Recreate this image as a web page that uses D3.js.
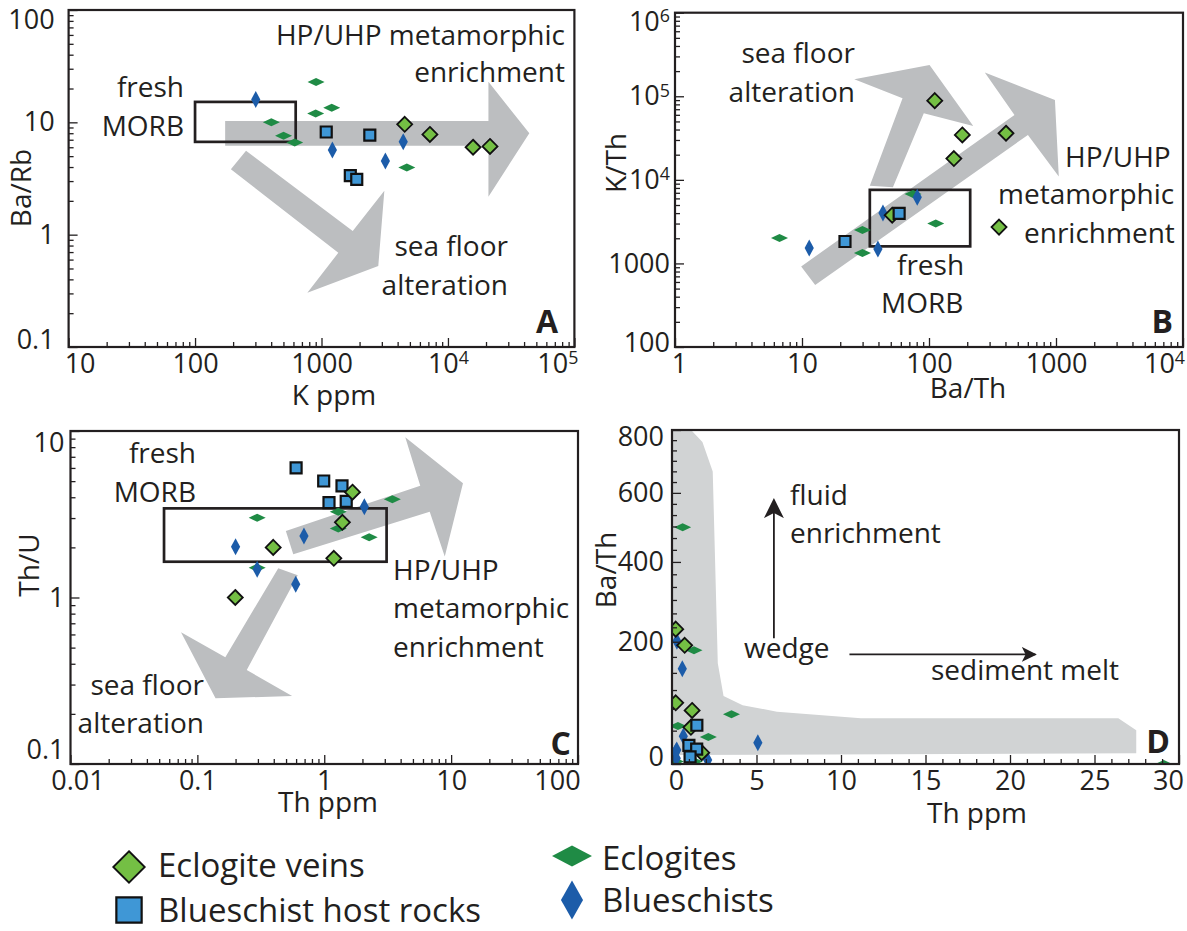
<!DOCTYPE html>
<html>
<head>
<meta charset="utf-8">
<script src="https://cdn.jsdelivr.net/npm/d3@7"></script>
<style>
  body { margin: 0; background: #fff; }
  svg text { font-family: "Open Sans", sans-serif; fill: #231f20; }
</style>
</head>
<body>
<script>
// ---------------- Panel A: Ba/Rb vs K ppm ----------------
const aEclogiteVeins = [[4550, 9.6], [7200, 7.8], [15800, 6.0], [21500, 6.1]];
const aBlueschistHost = [[1090, 8.2], [2410, 7.7], [1690, 3.35], [1900, 3.1]];
const aEclogites = [[906, 22.9], [900, 12.0], [1205, 13.5], [401, 10.0], [501, 7.6], [614, 6.6], [4730, 3.96]];
const aBlueschists = [[302, 16.0], [1219, 5.66], [3200, 4.52], [4430, 6.7]];
const aMorbBox = [[100, 6.7], [625, 15.2]];
const aMetArrow = [[173, 10.3], [20900, 10.3], [20900, 23.0], [44000, 7.98], [20900, 2.18], [20900, 6.19], [173, 6.19]];
const aSeaArrow = [[253, 5.58], [1766, 1.08], [3141, 2.46], [2812, 0.526], [773, 0.304], [1358, 0.69], [192, 3.82]];
const aXTicks = [10, 100, 1000, 1e4, 1e5];
const aYTicks = [0.1, 1, 10, 100];

// ---------------- Panel B: K/Th vs Ba/Th ----------------
const bEclogiteVeins = [[111, 88700], [183, 34500], [157, 18000], [404, 36100], [356, 2720], [51.3, 3780]];
const bBlueschistHost = [[58.2, 3960], [21.8, 1830]];
const bEclogites = [[6.65, 2010], [29.9, 2520], [29.9, 1330], [74.8, 6750], [113, 3000]];
const bBlueschists = [[11.4, 1525], [39.6, 1483], [43.4, 4000], [80.8, 6210]];
const bMorbBox = [[34.2, 1600], [211, 7590]];
const bMetArrow = [[9.85, 920], [471, 59800], [275, 192000], [981, 90300], [1052, 10960], [601, 34500], [12.7, 551]];
const bSeaArrow = [[34.2, 8480], [61.9, 94600], [25.8, 159700], [101, 237000], [223, 44200], [91, 62700], [52, 8170]];
const bXTicks = [1, 10, 100, 1000, 1e4];
const bYTicks = [100, 1000, 1e4, 1e5, 1e6];

// ---------------- Panel C: Th/U vs Th ppm ----------------
const cEclogiteVeins = [[1.67, 4.29], [1.39, 2.83], [0.396, 2.0], [1.19, 1.72], [0.199, 1.0]];
const cBlueschistHost = [[0.60, 6.0], [0.99, 5.01], [1.38, 4.68], [1.09, 3.71], [1.49, 3.78]];
const cEclogites = [[0.296, 3.01], [1.29, 3.27], [1.29, 2.60], [2.26, 2.30], [3.44, 3.89], [0.296, 1.51]];
const cBlueschists = [[2.07, 3.51], [0.692, 2.34], [0.200, 2.02], [0.296, 1.48], [0.596, 1.20]];
const cMorbBox = [[0.0546, 1.64], [3.10, 3.43]];
const cMetArrow = [[0.498, 2.51], [5.71, 4.69], [4.35, 9.17], [12.4, 4.85], [8.91, 1.76], [6.78, 3.27], [0.570, 1.82]];
const cSeaArrow = [[0.434, 1.50], [0.166, 0.438], [0.0743, 0.618], [0.139, 0.248], [0.558, 0.256], [0.245, 0.367], [0.618, 1.36]];
const cXTicks = [0.01, 0.1, 1, 10, 100];
const cYTicks = [0.1, 1, 10];

// ---------------- Panel D: Ba/Th vs Th ppm ----------------
const dEclogiteVeins = [[0.22, 229], [0.75, 192], [0.22, 77], [1.19, 64], [1.12, 38], [1.76, 7.5]];
const dBlueschistHost = [[1.47, 41], [1.0, 15], [1.46, 11], [1.07, 4]];
const dEclogites = [[0.63, 498], [1.3, 181], [3.52, 58], [0.35, 40], [2.15, 25], [1.32, 1], [0.2, 1], [29.1, 0]];
const dBlueschists = [[0.29, 201], [0.61, 142], [5.08, 18], [0.67, 26], [0.28, 10], [0.22, 8.4], [2.11, 1.8], [0.25, 3]];
const dWedgeField = [[0, 800], [1.13, 800], [1.80, 761], [2.41, 666], [2.71, 153], [3.05, 89], [4.18, 73], [6.21, 62],
  [11.18, 51.5], [26.41, 51.5], [27.47, 34], [27.47, 7], [0, 5.5]];
const dFluidArrow = [[6.03, 208], [6.03, 578]];
const dMeltArrow = [[10.5, 172], [21.5, 172]];
const dXTicks = [0, 5, 10, 15, 20, 25, 30];
const dYTicks = [0, 200, 400, 600, 800];

// ---------------- marker styles ----------------
const markerStyles = {
  veins:       { d: "M0,-7.5L7.5,0L0,7.5L-7.5,0Z", fill: "#74bf44", stroke: "#111", sw: 1.8 },
  host:        { d: "M-5.5,-5.5H5.5V5.5H-5.5Z", fill: "#3f97d6", stroke: "#111", sw: 2.2 },
  eclogites:   { d: "M-8.5,0L0,-4L8.5,0L0,4Z", fill: "#1f8b45", stroke: "none", sw: 0 },
  blueschists: { d: "M0,-8.5L4.6,0L0,8.5L-4.6,0Z", fill: "#1c5ca9", stroke: "none", sw: 0 }
};

const W = 1187, H = 931;
const svg = d3.select("body").append("svg").attr("width", W).attr("height", H);
const defs = svg.append("defs");
defs.append("marker").attr("id", "ahead").attr("viewBox", "0 0 10 10").attr("refX", 9).attr("refY", 5)
  .attr("markerUnits", "userSpaceOnUse").attr("markerWidth", 20).attr("markerHeight", 20).attr("orient", "auto")
  .append("path").attr("d", "M0,0L10,5L0,10L2.5,5Z").attr("fill", "#231f20");
defs.append("marker").attr("id", "aheadSmall").attr("viewBox", "0 0 10 10").attr("refX", 9).attr("refY", 5)
  .attr("markerUnits", "userSpaceOnUse").attr("markerWidth", 15).attr("markerHeight", 15).attr("orient", "auto")
  .append("path").attr("d", "M0,0L10,5L0,10L2.5,5Z").attr("fill", "#231f20");

function logMinors(ticks) {
  const out = [];
  for (let i = 0; i < ticks.length - 1; i++) {
    for (let k = 2; k <= 9; k++) out.push(+(k * ticks[i]).toPrecision(6));
  }
  return out;
}

// powers of ten from 10^4 upwards are written with a superscript exponent
function logLabel(sel) {
  sel.each(function (d) {
    const t = d3.select(this);
    if (d >= 1e4) {
      const e = Math.round(Math.log10(d));
      t.text("10");
      t.append("tspan").attr("dy", "-0.5em").attr("font-size", "0.66em").text(e);
    }
  });
}

function buildPanel(p) {
  const { x, y, frame } = p;
  const g = svg.append("g");
  const clipId = "clip-" + p.id;
  defs.append("clipPath").attr("id", clipId).append("rect")
    .attr("x", frame.l).attr("y", frame.t).attr("width", frame.r - frame.l).attr("height", frame.b - frame.t);
  const body = g.append("g").attr("clip-path", `url(#${clipId})`);
  const poly = d3.line().x(d => x(d[0])).y(d => y(d[1])).curve(d3.curveLinearClosed);

  (p.fields || []).forEach(f => {
    body.append("path").attr("d", poly(f.pts)).attr("fill", f.fill);
  });
  if (p.box) {
    body.append("rect")
      .attr("x", x(p.box[0][0])).attr("y", y(p.box[1][1]))
      .attr("width", x(p.box[1][0]) - x(p.box[0][0]))
      .attr("height", y(p.box[0][1]) - y(p.box[1][1]))
      .attr("fill", "none").attr("stroke", "#231f20").attr("stroke-width", 2.7);
  }
  (p.arrows || []).forEach(a => {
    body.append("line")
      .attr("x1", x(a.pts[0][0])).attr("y1", y(a.pts[0][1]))
      .attr("x2", x(a.pts[1][0])).attr("y2", y(a.pts[1][1]))
      .attr("stroke", "#231f20").attr("stroke-width", 1.8).attr("marker-end", `url(#${a.marker})`);
  });
  p.series.forEach(s => {
    const st = markerStyles[s.kind];
    body.append("g").selectAll("path").data(s.data).join("path")
      .attr("transform", d => `translate(${x(d[0])},${y(d[1])})`)
      .attr("d", st.d).attr("fill", st.fill).attr("stroke", st.stroke).attr("stroke-width", st.sw)
      .attr("stroke-linejoin", "miter");
  });

  // annotations
  p.notes.forEach(n => {
    g.append("text").attr("x", n.x).attr("y", n.y).attr("text-anchor", n.anchor || "start")
      .attr("font-size", 28).text(n.t);
  });
  g.append("text").attr("x", p.letter.x).attr("y", p.letter.y).attr("text-anchor", "end")
    .attr("font-size", 32).attr("font-weight", 700).text(p.id.toUpperCase());

  // axes: inward ticks, minor and major drawn as separate axis calls
  const xa = g.append("g").attr("transform", `translate(0,${frame.b})`);
  xa.append("g").call(d3.axisBottom(x).tickValues(p.xMinor).tickSize(-5).tickFormat(""));
  const xMaj = xa.append("g").call(d3.axisBottom(x).tickValues(p.xTicks).tickSize(-9).tickPadding(p.xPad).tickFormat(p.xFmt));
  const ya = g.append("g").attr("transform", `translate(${frame.l},0)`);
  ya.append("g").call(d3.axisLeft(y).tickValues(p.yMinor).tickSize(-5).tickFormat(""));
  const yMaj = ya.append("g").call(d3.axisLeft(y).tickValues(p.yTicks).tickSize(-9).tickPadding(p.yPad).tickFormat(p.yFmt));
  g.selectAll(".domain").remove();
  g.selectAll(".tick line").attr("stroke", "#231f20").attr("stroke-width", 1.3);
  const xt = xMaj.selectAll(".tick text").attr("font-size", 27).call(logLabel);
  const yt = yMaj.selectAll(".tick text").attr("font-size", 27).call(logLabel);
  xt.filter((d, i) => i === 0).attr("dx", p.nudge[0]);
  xt.filter((d, i, n) => i === n.length - 1).attr("dx", p.nudge[1]);
  yt.filter((d, i) => i === 0).attr("transform", `translate(0,${p.nudge[2]})`);
  yt.filter((d, i, n) => i === n.length - 1).attr("transform", `translate(0,${p.nudge[3]})`);
  g.selectAll(".tick text").attr("font-family", null).style("fill", "#231f20");

  g.append("rect").attr("x", frame.l).attr("y", frame.t)
    .attr("width", frame.r - frame.l).attr("height", frame.b - frame.t)
    .attr("fill", "none").attr("stroke", "#231f20").attr("stroke-width", 2.2);

  g.append("text").attr("x", p.xTitle.x).attr("y", p.xTitle.y).attr("text-anchor", "middle")
    .attr("font-size", 28).text(p.xTitle.t);
  g.append("text").attr("transform", `translate(${p.yTitle.x},${p.yTitle.y}) rotate(-90)`)
    .attr("text-anchor", "middle").attr("font-size", 28).text(p.yTitle.t);
}

const GRAY = "#bcbec0";
const logFmt = d => String(d);

// ---------- A ----------
const frA = { l: 68.6, t: 10, r: 574.4, b: 347 };
buildPanel({
  id: "a", frame: frA,
  x: d3.scaleLog().domain([10, 1e5]).range([frA.l, frA.r]),
  y: d3.scaleLog().domain([0.1, 100]).range([frA.b, frA.t]),
  xTicks: aXTicks, xMinor: logMinors(aXTicks), yTicks: aYTicks, yMinor: logMinors(aYTicks),
  xFmt: logFmt, yFmt: logFmt, xPad: 7, yPad: 14, nudge: [11, -17, -7, 10],
  fields: [{ pts: aMetArrow, fill: GRAY }, { pts: aSeaArrow, fill: GRAY }],
  box: aMorbBox,
  series: [{ kind: "eclogites", data: aEclogites }, { kind: "blueschists", data: aBlueschists },
           { kind: "host", data: aBlueschistHost }, { kind: "veins", data: aEclogiteVeins }],
  notes: [
    { t: "HP/UHP metamorphic", x: 565, y: 45, anchor: "end" },
    { t: "enrichment", x: 565, y: 82, anchor: "end" },
    { t: "fresh", x: 184, y: 97, anchor: "end" },
    { t: "MORB", x: 184, y: 136, anchor: "end" },
    { t: "sea floor", x: 508, y: 256, anchor: "end" },
    { t: "alteration", x: 508, y: 295, anchor: "end" }
  ],
  letter: { x: 558, y: 333 },
  xTitle: { t: "K ppm", x: 334, y: 405 },
  yTitle: { t: "Ba/Rb", x: 31, y: 188 }
});

// ---------- B ----------
const frB = { l: 675, t: 12.7, r: 1183, b: 347 };
buildPanel({
  id: "b", frame: frB,
  x: d3.scaleLog().domain([1, 1e4]).range([frB.l, frB.r]),
  y: d3.scaleLog().domain([100, 1e6]).range([frB.b, frB.t]),
  xTicks: bXTicks, xMinor: logMinors(bXTicks), yTicks: bYTicks, yMinor: logMinors(bYTicks),
  xFmt: logFmt, yFmt: logFmt, xPad: 7, yPad: 5, nudge: [4, -19, -4, 9],
  fields: [{ pts: bSeaArrow, fill: GRAY }, { pts: bMetArrow, fill: GRAY }],
  box: bMorbBox,
  series: [{ kind: "eclogites", data: bEclogites }, { kind: "blueschists", data: bBlueschists },
           { kind: "veins", data: bEclogiteVeins }, { kind: "host", data: bBlueschistHost }],
  notes: [
    { t: "sea floor", x: 855, y: 63, anchor: "end" },
    { t: "alteration", x: 855, y: 102, anchor: "end" },
    { t: "HP/UHP", x: 1065, y: 167 },
    { t: "metamorphic", x: 998, y: 204 },
    { t: "enrichment", x: 1024, y: 243 },
    { t: "fresh", x: 897, y: 275 },
    { t: "MORB", x: 881, y: 313 }
  ],
  letter: { x: 1173, y: 333 },
  xTitle: { t: "Ba/Th", x: 968, y: 398 },
  yTitle: { t: "K/Th", x: 626, y: 163 }
});

// ---------- C ----------
const frC = { l: 70.5, t: 431, r: 578, b: 764 };
buildPanel({
  id: "c", frame: frC,
  x: d3.scaleLog().domain([0.01, 100]).range([frC.l, frC.r]),
  y: d3.scaleLog().domain([0.1, 10]).range([frC.b, frC.t]),
  xTicks: cXTicks, xMinor: logMinors(cXTicks), yTicks: cYTicks, yMinor: logMinors(cYTicks),
  xFmt: logFmt, yFmt: logFmt, xPad: 7, yPad: 6, nudge: [7, -21, -14, 12],
  fields: [{ pts: cMetArrow, fill: GRAY }, { pts: cSeaArrow, fill: GRAY }],
  box: cMorbBox,
  series: [{ kind: "eclogites", data: cEclogites }, { kind: "blueschists", data: cBlueschists },
           { kind: "host", data: cBlueschistHost }, { kind: "veins", data: cEclogiteVeins }],
  notes: [
    { t: "fresh", x: 196, y: 463, anchor: "end" },
    { t: "MORB", x: 196, y: 502, anchor: "end" },
    { t: "HP/UHP", x: 393, y: 580 },
    { t: "metamorphic", x: 393, y: 618 },
    { t: "enrichment", x: 393, y: 657 },
    { t: "sea floor", x: 204, y: 695, anchor: "end" },
    { t: "alteration", x: 204, y: 733, anchor: "end" }
  ],
  letter: { x: 571, y: 755 },
  xTitle: { t: "Th ppm", x: 328, y: 812 },
  yTitle: { t: "Th/U", x: 39, y: 565 }
});

// ---------- D ----------
const frD = { l: 672, t: 430, r: 1179, b: 764 };
buildPanel({
  id: "d", frame: frD,
  x: d3.scaleLinear().domain([0, 30]).range([frD.l, frD.r]),
  y: d3.scalePow().exponent(0.725).domain([0, 800]).range([frD.b, frD.t]),
  xTicks: dXTicks, xMinor: d3.range(0, 31).filter(v => v % 5 !== 0),
  yTicks: dYTicks, yMinor: d3.range(0, 800, 200 / 6).filter((v, i) => i % 6 !== 0),
  xFmt: d3.format("d"), yFmt: d3.format("d"), xPad: 7, yPad: 8, nudge: [4, -11, -7, 7],
  fields: [{ pts: dWedgeField, fill: "#d1d3d4" }],
  arrows: [{ pts: dFluidArrow, marker: "ahead" }, { pts: dMeltArrow, marker: "aheadSmall" }],
  series: [{ kind: "eclogites", data: dEclogites }, { kind: "blueschists", data: dBlueschists },
           { kind: "veins", data: dEclogiteVeins }, { kind: "host", data: dBlueschistHost }],
  notes: [
    { t: "fluid", x: 790, y: 505 },
    { t: "enrichment", x: 790, y: 543 },
    { t: "wedge", x: 744, y: 658 },
    { t: "sediment melt", x: 931, y: 680 }
  ],
  letter: { x: 1170, y: 753 },
  xTitle: { t: "Th ppm", x: 977, y: 823 },
  yTitle: { t: "Ba/Th", x: 616, y: 570 }
});

// ---------------- legend ----------------
const legendItems = [
  { kind: "veins", label: "Eclogite veins", mx: 129, my: 867, tx: 158, ty: 877, scale: [2.1, 2.1] },
  { kind: "host", label: "Blueschist host rocks", mx: 129, my: 910, tx: 158, ty: 922, scale: [2.3, 2.3] },
  { kind: "eclogites", label: "Eclogites", mx: 572, my: 856, tx: 602, ty: 870, scale: [2.35, 2.6] },
  { kind: "blueschists", label: "Blueschists", mx: 572, my: 900, tx: 602, ty: 912, scale: [2.4, 2.3] }
];
const lg = svg.append("g");
legendItems.forEach(it => {
  const st = markerStyles[it.kind];
  lg.append("path").attr("d", st.d)
    .attr("transform", `translate(${it.mx},${it.my}) scale(${it.scale[0]},${it.scale[1]})`)
    .attr("fill", st.fill).attr("stroke", st.stroke).attr("stroke-width", st.sw / it.scale[0]);
  lg.append("text").attr("x", it.tx).attr("y", it.ty).attr("font-size", 33).text(it.label);
});
</script>
</body>
</html>
